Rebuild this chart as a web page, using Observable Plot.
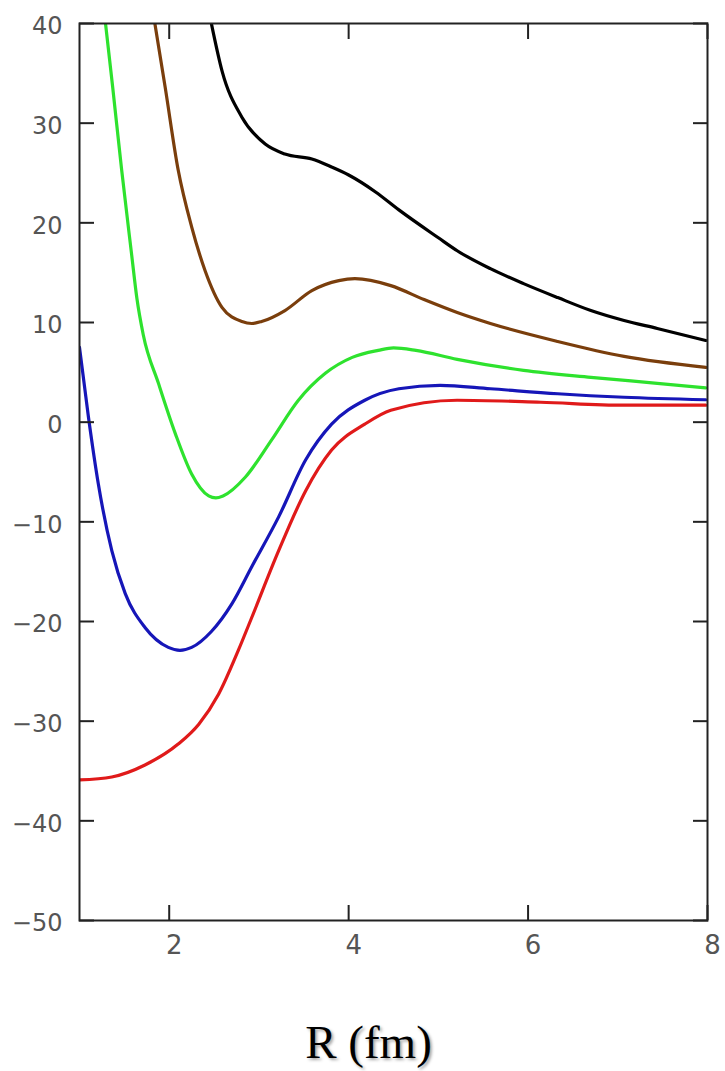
<!DOCTYPE html>
<html><head><meta charset="utf-8">
<script src="https://cdn.jsdelivr.net/npm/d3@7"></script>
<script src="https://cdn.jsdelivr.net/npm/@observablehq/plot@0.6"></script>
<style>
body{margin:0;background:#fff;}
#wrap{position:relative;width:725px;height:1071px;}
#chart svg{display:block;}
#xlabel{position:absolute;left:268px;width:201px;top:1019px;text-align:center;font-family:"Liberation Serif",serif;font-size:47px;line-height:47px;color:#000;text-shadow:2px 2px 3px rgba(0,0,0,0.35);white-space:nowrap;}
</style></head><body><div id="wrap"><div id="chart"></div><div id="xlabel">R (fm)</div></div>
<script>
const xTicks = [2, 4, 6, 8];
const yTicks = [-50, -40, -30, -20, -10, 0, 10, 20, 30, 40];

const blackR = [2.47, 2.59, 2.81, 3.07, 3.29, 3.59, 3.81, 4.0, 4.3, 4.56, 5.0, 5.21, 5.58, 5.95, 6.33, 6.70, 7.07, 7.44, 7.98];
const blackV = [40, 35.2, 30.6, 27.9, 26.9, 26.4, 25.6, 24.8, 23.1, 21.3, 18.5, 17.2, 15.4, 13.9, 12.5, 11.2, 10.2, 9.4, 8.2];

const brownR = [1.84, 1.955, 2.10, 2.25, 2.40, 2.59, 2.81, 2.92, 3.03, 3.29, 3.59, 3.89, 4.07, 4.47, 4.84, 5.21, 5.58, 6.33, 7.07, 7.98];
const brownV = [40, 33.6, 25.3, 19.6, 15.2, 11.5, 10.1, 9.9, 10.1, 11.2, 13.2, 14.2, 14.4, 13.7, 12.3, 11.0, 9.9, 8.1, 6.6, 5.5];

const greenR = [1.29, 1.37, 1.47, 1.58, 1.64, 1.71, 1.88, 2.07, 2.25, 2.44, 2.52, 2.60, 2.85, 3.14, 3.44, 3.74, 4.04, 4.33, 4.5, 4.75, 5.21, 5.95, 6.70, 7.44, 7.98];
const greenV = [40, 33.6, 25.3, 16.9, 12.4, 8.8, 3.9, -1.2, -5.2, -7.4, -7.6, -7.4, -5.5, -1.8, 2.2, 4.9, 6.5, 7.2, 7.45, 7.2, 6.3, 5.2, 4.5, 3.9, 3.45];

const blueR = [1.0, 1.10, 1.21, 1.36, 1.51, 1.73, 1.99, 2.12, 2.25, 2.47, 2.70, 2.92, 3.22, 3.52, 3.81, 4.18, 4.56, 5.02, 5.58, 6.33, 7.07, 7.98];
const blueV = [7.5, 0.5, -6.2, -12.9, -17.2, -20.6, -22.6, -22.9, -22.6, -21.0, -18.2, -14.5, -9.5, -3.8, -0.2, 2.2, 3.35, 3.7, 3.35, 2.85, 2.5, 2.25];

const redR = [1.0, 1.36, 1.73, 2.10, 2.33, 2.55, 2.77, 2.92, 3.22, 3.52, 3.81, 4.18, 4.47, 5.21, 6.14, 7.07, 7.98];
const redV = [-35.9, -35.6, -34.4, -32.3, -30.3, -27.3, -22.9, -19.6, -12.9, -6.9, -2.8, -0.2, 1.2, 2.2, 2.0, 1.7, 1.7];

const seriesNames = ["black", "brown", "green", "blue", "red"];
const seriesColors = ["#000000", "#7a3e0c", "#2ee22e", "#1616b8", "#e01a1a"];
const seriesR = [blackR, brownR, greenR, blueR, redR];
const seriesV = [blackV, brownV, greenV, blueV, redV];

const rows = [];
seriesNames.forEach((s, i) => seriesR[i].forEach((r, j) => rows.push({s, r, v: seriesV[i][j]})));

const tickStyle = {stroke: "#222", strokeWidth: 2, tickFormat: () => "", label: null};
const labelStyle = {tickSize: 0, color: "#555", label: null, fontFamily: "'DejaVu Sans', sans-serif"};

const chart = Plot.plot({
  width: 725,
  height: 1000,
  marginLeft: 79,
  marginRight: 18,
  marginTop: 23,
  marginBottom: 80,
  style: {background: "#fff", fontFamily: "'DejaVu Sans', sans-serif"},
  x: {domain: [1, 8]},
  y: {domain: [-50, 40]},
  color: {domain: seriesNames, range: seriesColors},
  marks: [
    ...seriesNames.map((s, i) => Plot.line(rows.filter(d => d.s === s), {x: "r", y: "v", stroke: seriesColors[i], strokeWidth: 3.2, curve: "monotone-x", clip: true})),
    Plot.axisY(yTicks, {anchor: "left", tickSize: 15, insetLeft: 15, ...tickStyle}),
    Plot.axisY(yTicks, {anchor: "right", tickSize: 15, insetRight: 15, ...tickStyle}),
    Plot.axisX(xTicks, {anchor: "bottom", tickSize: 15, insetBottom: 15, ...tickStyle}),
    Plot.axisX(xTicks, {anchor: "top", tickSize: 15, insetTop: 15, ...tickStyle}),
    Plot.axisY(yTicks, {anchor: "left", tickPadding: 17, fontSize: 24, dy: 3, ...labelStyle}),
    Plot.axisX(xTicks, {anchor: "bottom", tickPadding: 15, fontSize: 26, dx: 5, ...labelStyle}),
    Plot.frame({stroke: "#222", strokeWidth: 2})
  ]
});
document.getElementById("chart").appendChild(chart);
</script>
</body></html>
